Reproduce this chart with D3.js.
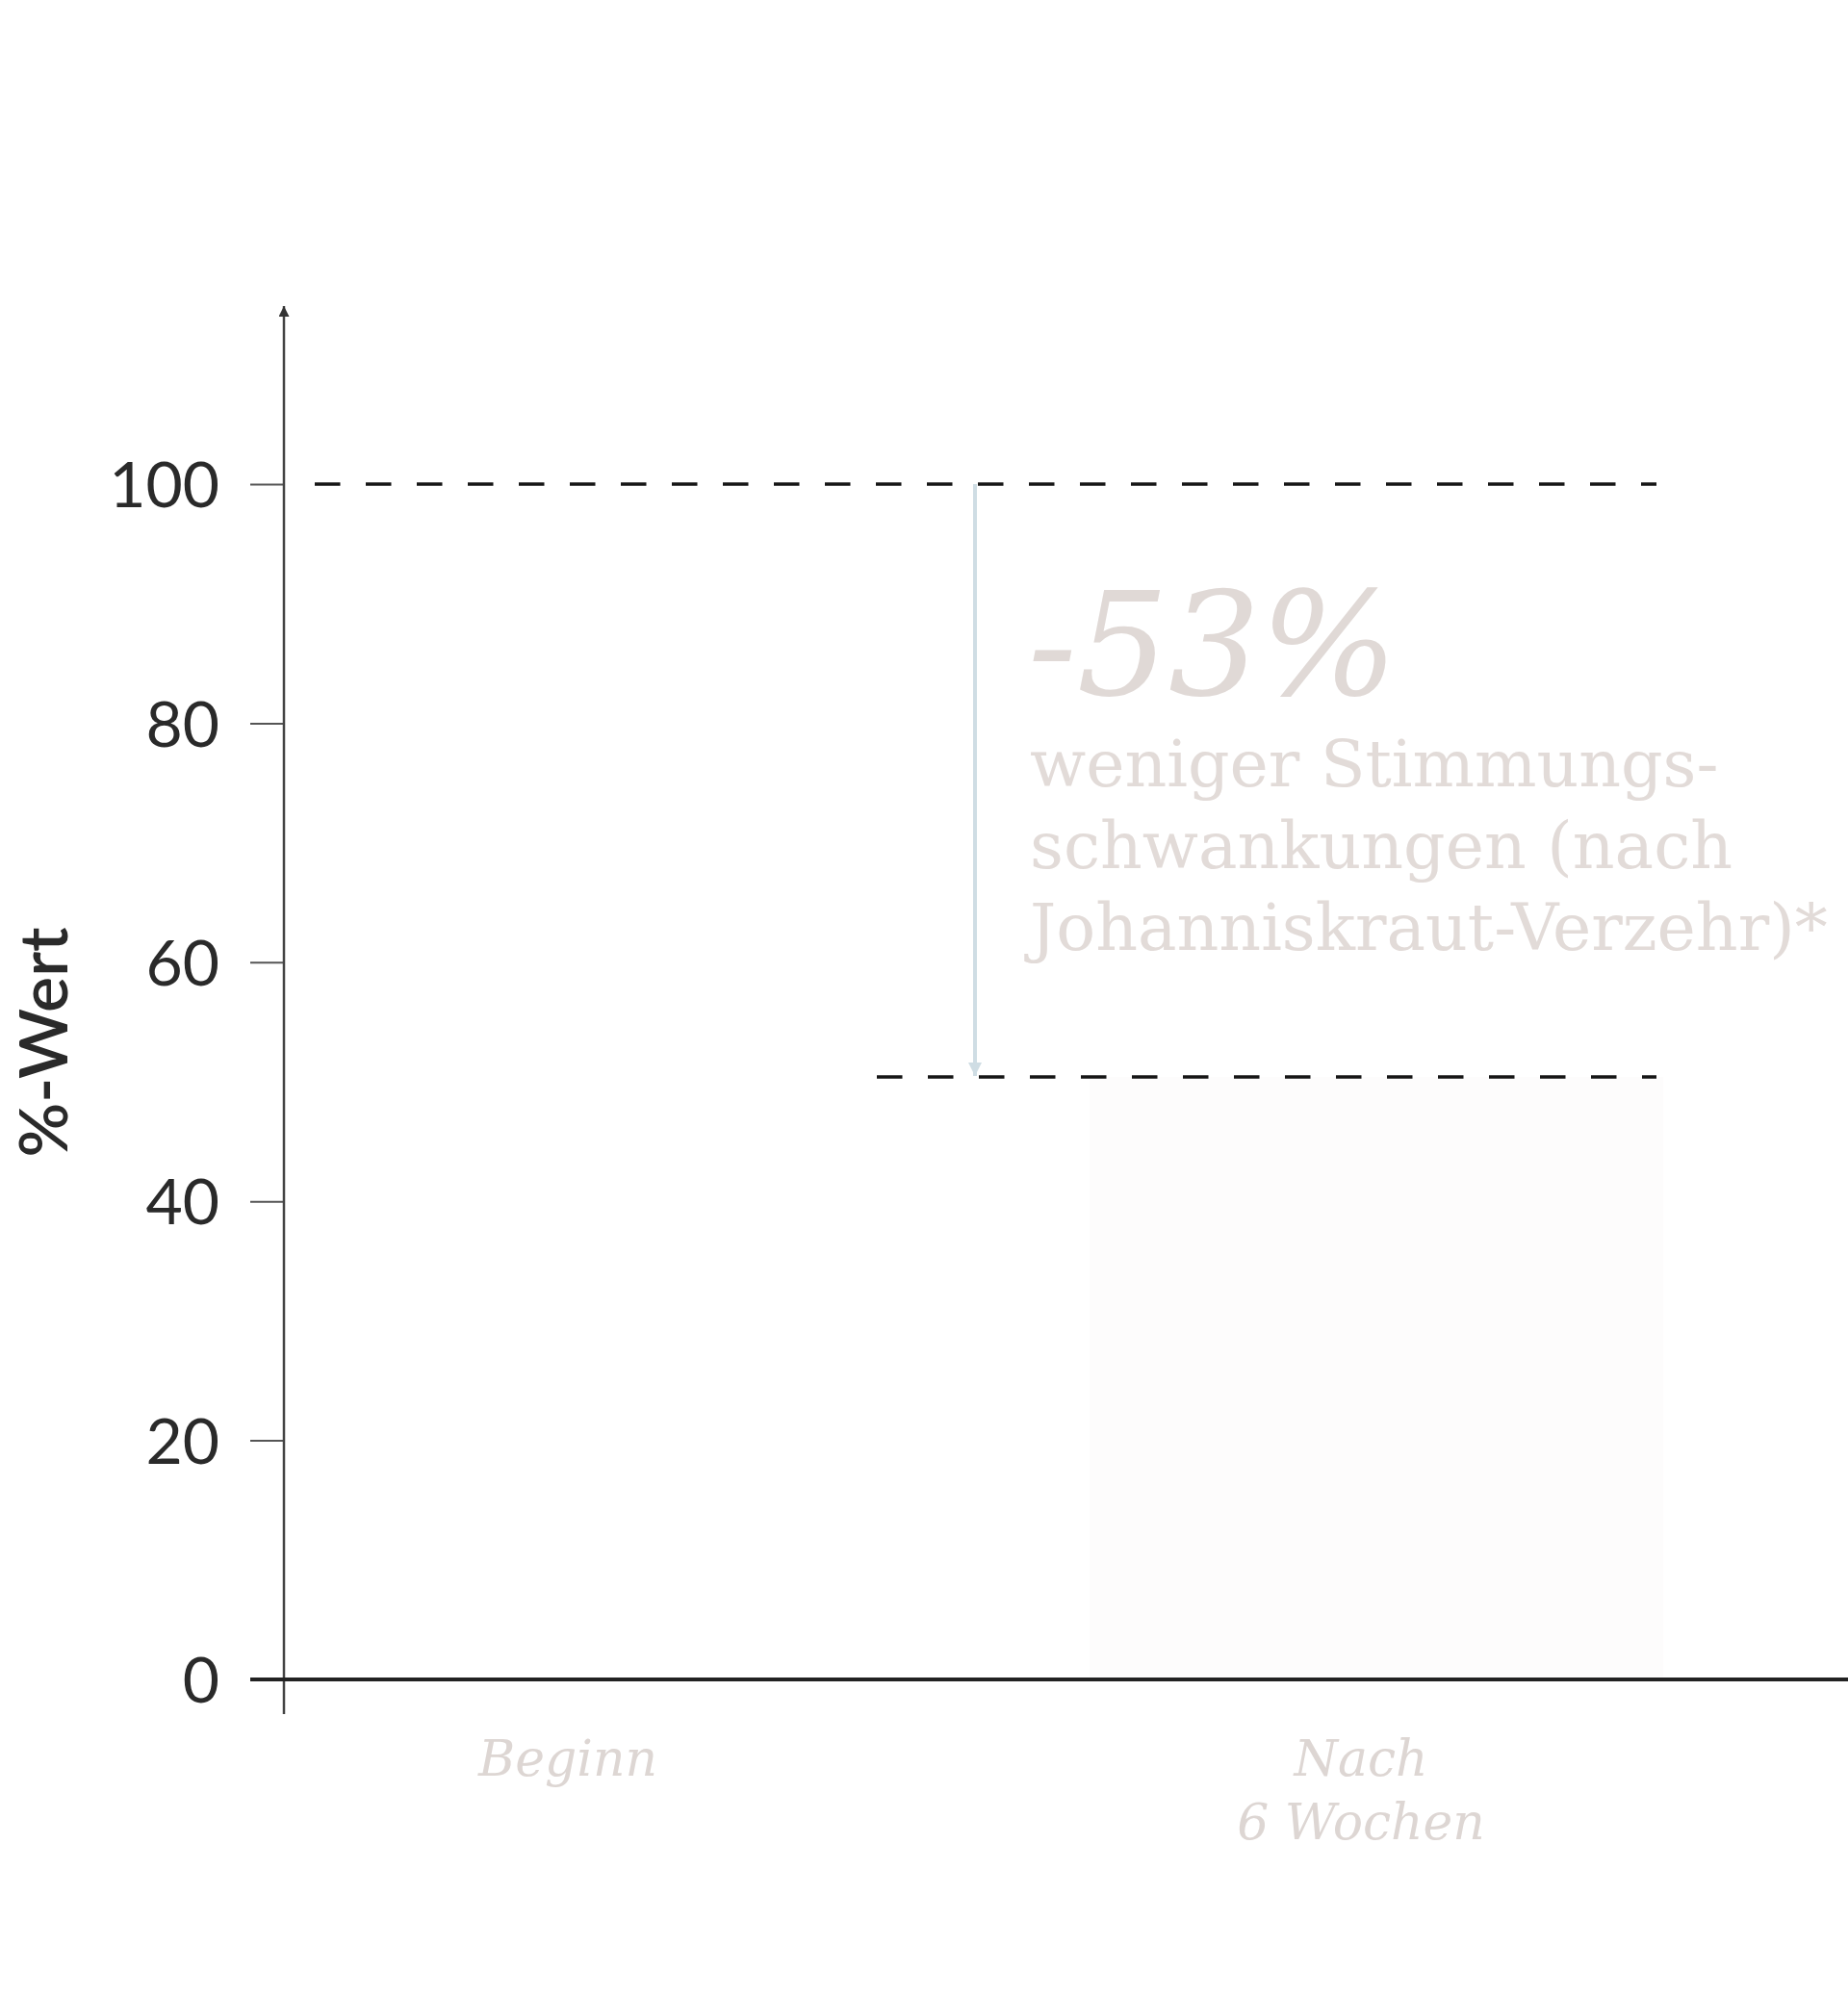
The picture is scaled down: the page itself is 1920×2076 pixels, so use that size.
<!DOCTYPE html>
<html>
<head>
<meta charset="utf-8">
<script src="https://cdn.jsdelivr.net/npm/d3@7"></script>
<style>
  body { margin: 0; background: #fff; }
  svg { display: block; }
</style>
</head>
<body>
<div id="chart"></div>
<script>
// data
const categories = ["Beginn", "Nach\n6 Wochen"];
const values = [100, 50.4];
const yTicks = [0, 20, 40, 60, 80, 100];
const yLabel = "%-Wert";
const changeLabel = "-53%";
const noteLines = ["weniger Stimmungs-", "schwankungen (nach", "Johanniskraut-Verzehr)*"];

const W = 1920, H = 2076;
const axisX = 295, zeroY = 1745, topY = 503;

const svg = d3.select("#chart").append("svg")
    .attr("width", W).attr("height", H);

const defs = svg.append("defs");
defs.append("marker").attr("id", "axisArrow")
    .attr("viewBox", "0 0 10 10").attr("refX", 10).attr("refY", 5)
    .attr("markerWidth", 12).attr("markerHeight", 11).attr("markerUnits", "userSpaceOnUse")
    .attr("orient", "auto")
    .append("path").attr("d", "M0,0 L10,5 L0,10 Z").attr("fill", "#333");
defs.append("marker").attr("id", "dropArrow")
    .attr("viewBox", "0 0 10 10").attr("refX", 10).attr("refY", 5)
    .attr("markerWidth", 14).attr("markerHeight", 16).attr("markerUnits", "userSpaceOnUse")
    .attr("orient", "auto")
    .append("path").attr("d", "M0,0 L10,5 L0,10 Z").attr("fill", "#cfdde4");

const yScale = d3.scaleLinear().domain([0, 100]).range([zeroY, topY]);
const xScale = d3.scalePoint().domain(categories).range([590, 1414]);
const barWidth = 596;

// bars (almost white in the original)
svg.selectAll(".bar").data(values).enter().append("rect")
    .attr("class", "bar")
    .attr("x", (d, i) => xScale(categories[i]) - barWidth / 2 + (i ? 16 : 0))
    .attr("y", d => yScale(d))
    .attr("width", barWidth)
    .attr("height", d => zeroY - yScale(d))
    .attr("fill", (d, i) => i ? "#fdfcfc" : "#ffffff");

// dashed guides at the bar tops
const guideStart = [327, 911], guideEnd = 1721;
svg.selectAll(".guide").data(values).enter().append("line")
    .attr("class", "guide")
    .attr("x1", (d, i) => guideStart[i]).attr("x2", guideEnd)
    .attr("y1", d => yScale(d)).attr("y2", d => yScale(d))
    .attr("stroke", "#151515").attr("stroke-width", 3.5)
    .attr("stroke-dasharray", "26.5,26.5");

// drop arrow between the two values
const arrowX = 1013;
svg.append("line")
    .attr("x1", arrowX).attr("x2", arrowX)
    .attr("y1", yScale(values[0])).attr("y2", yScale(values[1]) - 1)
    .attr("stroke", "#cfdde4").attr("stroke-width", 4)
    .attr("marker-end", "url(#dropArrow)");

// y axis ticks
const yAxis = d3.axisLeft(yScale).tickValues(yTicks).tickSize(35).tickPadding(32);
const gy = svg.append("g").attr("transform", `translate(${axisX},0)`).call(yAxis);
gy.select(".domain").remove();
gy.selectAll(".tick line").attr("stroke", "#555").attr("stroke-width", 2);
gy.selectAll(".tick text")
    .attr("fill", "#2a2a2a")
    .style("font-family", "Lato, 'Noto Sans', sans-serif")
    .style("font-size", "66px")
    .attr("dy", "0.36em");

// y axis line with arrow on top
svg.append("line")
    .attr("x1", axisX).attr("x2", axisX)
    .attr("y1", 1781).attr("y2", 318)
    .attr("stroke", "#444").attr("stroke-width", 2.5)
    .attr("marker-end", "url(#axisArrow)");

// x axis line
svg.append("line")
    .attr("x1", 260).attr("x2", W)
    .attr("y1", zeroY).attr("y2", zeroY)
    .attr("stroke", "#222").attr("stroke-width", 4);

// y axis title
svg.append("text")
    .attr("transform", "translate(70,1083) rotate(-90)")
    .attr("text-anchor", "middle")
    .attr("fill", "#2a2a2a")
    .style("font-family", "Lato, 'Noto Sans', sans-serif")
    .style("font-weight", 600)
    .style("font-size", "70px")
    .text(yLabel);

// category labels
const catLabels = svg.selectAll(".cat").data(categories).enter().append("text")
    .attr("class", "cat")
    .attr("x", d => xScale(d))
    .attr("y", 1845)
    .attr("text-anchor", "middle")
    .attr("fill", "#ddd6d3")
    .style("font-family", "'DejaVu Serif', serif")
    .style("font-style", "italic")
    .style("font-size", "52px");
catLabels.each(function (d) {
    const t = d3.select(this);
    d.split("\n").forEach((line, i) => {
        t.append("tspan").attr("x", xScale(d)).attr("dy", i ? 66 : 0).text(line);
    });
});

// annotation
svg.append("text")
    .attr("x", 1068).attr("y", 722)
    .attr("fill", "#e0d9d6")
    .style("font-family", "'DejaVu Serif', serif")
    .style("font-style", "italic")
    .style("font-size", "150px")
    .text(changeLabel);

svg.selectAll(".note").data(noteLines).enter().append("text")
    .attr("class", "note")
    .attr("x", 1070)
    .attr("y", (d, i) => 817 + i * 85)
    .attr("fill", "#e2dbd8")
    .style("font-family", "'DejaVu Serif', serif")
    .style("font-size", "68px")
    .text(d => d);
</script>
</body>
</html>
